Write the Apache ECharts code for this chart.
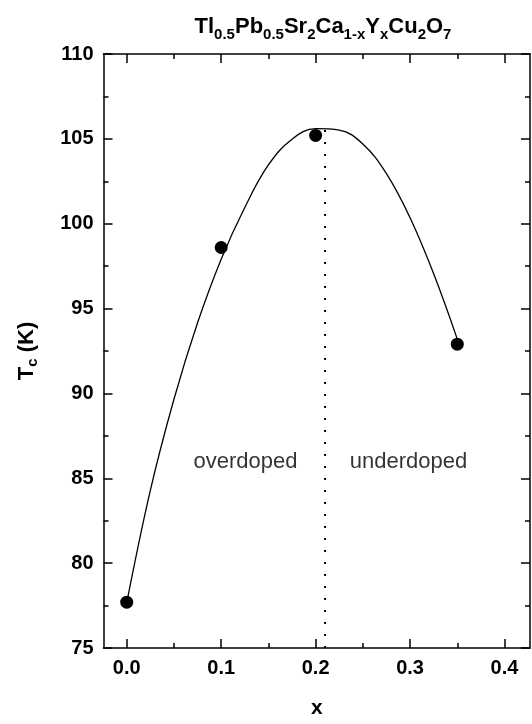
<!DOCTYPE html>
<html>
<head>
<meta charset="utf-8">
<script src="https://cdn.jsdelivr.net/npm/echarts@6.0.0/dist/echarts.min.js"></script>
<style>
html,body{margin:0;padding:0;background:#fff;}
#chart{width:532px;height:724px;}
</style>
</head>
<body>
<div id="chart"></div>
<script>
// Measured samples
const sampleX = [0.0, 0.1, 0.2, 0.35];
const sampleTc = [77.7, 98.6, 105.2, 92.9];

// Fitted curve
const fitX  = [0.0, 0.025, 0.05, 0.075, 0.1, 0.125, 0.15, 0.175, 0.2, 0.225, 0.25, 0.275, 0.3, 0.325, 0.35];
const fitTc = [77.66, 84.29, 89.66, 94.16, 97.91, 100.96, 103.46, 104.98, 105.6, 105.52, 104.7, 102.95, 100.35, 97.05, 93.2];

// Optimal doping marker (dotted vertical)
const optX = [0.21, 0.21];
const optTc = [75, 105.6];

// Region annotations
const noteX = [0.1257, 0.2983];
const noteTc = [85.95, 85.95];
const noteText = ['overdoped', 'underdoped'];

// Axis ticks
const xMajor = [0.0, 0.1, 0.2, 0.3, 0.4];
const xMinor = [0.05, 0.15, 0.25, 0.35];
const xRange = [-0.0246, 0.427];
const yRange = [75, 110];
const yStep = 5;

const zip = (a, b) => a.map((v, i) => [v, b[i]]);
const font = 'Liberation Sans, Arial, Helvetica, sans-serif';
const lineC = '#000';

const chart = echarts.init(document.getElementById('chart'), null, {renderer: 'canvas'});

function xAx(pos, vals, len, labels, line) {
  return {
    type: 'value', position: pos, min: xRange[0], max: xRange[1],
    axisLine: {show: line, onZero: false, lineStyle: {color: lineC, width: 1.5}},
    axisTick: {show: true, inside: true, length: len, customValues: vals, lineStyle: {color: lineC, width: 1.5}},
    axisLabel: labels ? {show: true, customValues: vals, formatter: v => v.toFixed(1), margin: 10,
      color: '#000', fontFamily: font, fontWeight: 'bold', fontSize: 20} : {show: false},
    splitLine: {show: false}
  };
}
function yAx(pos, labels) {
  return {
    type: 'value', position: pos, min: yRange[0], max: yRange[1], interval: yStep,
    axisLine: {show: true, onZero: false, lineStyle: {color: lineC, width: 1.5}},
    axisTick: {show: true, inside: true, length: 9, lineStyle: {color: lineC, width: 1.5}},
    minorTick: {show: true, splitNumber: 2, length: 5, lineStyle: {color: lineC, width: 1.5}},
    axisLabel: labels ? {show: true, margin: 10, color: '#000', fontFamily: font, fontWeight: 'bold', fontSize: 20} : {show: false},
    splitLine: {show: false}, minorSplitLine: {show: false}
  };
}

const xAxes = [
  xAx('bottom', xMajor, 9, true, true),
  xAx('bottom', xMinor, 5, false, false),
  xAx('top', xMajor, 9, false, true),
  xAx('top', xMinor, 5, false, false)
];
xAxes[0].name = 'x';
xAxes[0].nameLocation = 'middle';
xAxes[0].nameGap = 50;
xAxes[0].nameTextStyle = {color: '#000', fontFamily: font, fontWeight: 'bold', fontSize: 21};

const yAxes = [yAx('left', true), yAx('right', false)];
yAxes[0].name = '{m|T}{s|c}{m| (K)}';
yAxes[0].nameLocation = 'middle';
yAxes[0].nameGap = 66;
yAxes[0].nameTextStyle = {
  color: '#000', fontFamily: font, fontWeight: 'bold',
  rich: {
    m: {fontSize: 22, fontWeight: 'bold', fontFamily: font, color: '#000', lineHeight: 22},
    s: {fontSize: 15, fontWeight: 'bold', fontFamily: font, color: '#000', lineHeight: 14, padding: [13, 0, 0, 0]}
  }
};

const titleParts = [['Tl','0.5'],['Pb','0.5'],['Sr','2'],['Ca','1-x'],['Y','x'],['Cu','2'],['O','7']];
const titleText = titleParts.map(p => '{m|' + p[0] + '}{s|' + p[1] + '}').join('');

chart.setOption({
  backgroundColor: '#fff',
  animation: false,
  title: {
    text: titleText, left: 318, top: 10, textAlign: 'center',
    textStyle: {
      fontFamily: font, fontWeight: 'bold', color: '#000',
      rich: {
        m: {fontSize: 22, fontWeight: 'bold', fontFamily: font, color: '#000', lineHeight: 24},
        s: {fontSize: 15, fontWeight: 'bold', fontFamily: font, color: '#000', lineHeight: 15, padding: [15, 0, 0, 0]}
      }
    }
  },
  grid: {left: 103.5, right: 2, top: 54, bottom: 72, containLabel: false},
  xAxis: xAxes,
  yAxis: yAxes,
  series: [
    {
      type: 'line', name: 'fit', data: zip(fitX, fitTc), smooth: 0.4,
      showSymbol: false, symbol: 'none', lineStyle: {color: '#000', width: 1.3}, z: 2
    },
    {
      type: 'line', name: 'optimal', data: zip(optX, optTc), showSymbol: false, symbol: 'none',
      lineStyle: {color: '#000', width: 2, type: [2, 10], cap: 'butt'}, z: 1
    },
    {
      type: 'scatter', name: 'Tc', data: zip(sampleX, sampleTc), symbol: 'circle', symbolSize: 13,
      itemStyle: {color: '#000', opacity: 1}, z: 3
    },
    {
      type: 'scatter', name: 'notes', symbolSize: 0,
      data: noteX.map((x, i) => ({value: [x, noteTc[i]], label: {formatter: noteText[i]}})),
      label: {show: true, position: 'inside', color: '#000', fontFamily: font, fontSize: 22},
      silent: true, z: 4
    }
  ]
});
</script>
</body>
</html>
